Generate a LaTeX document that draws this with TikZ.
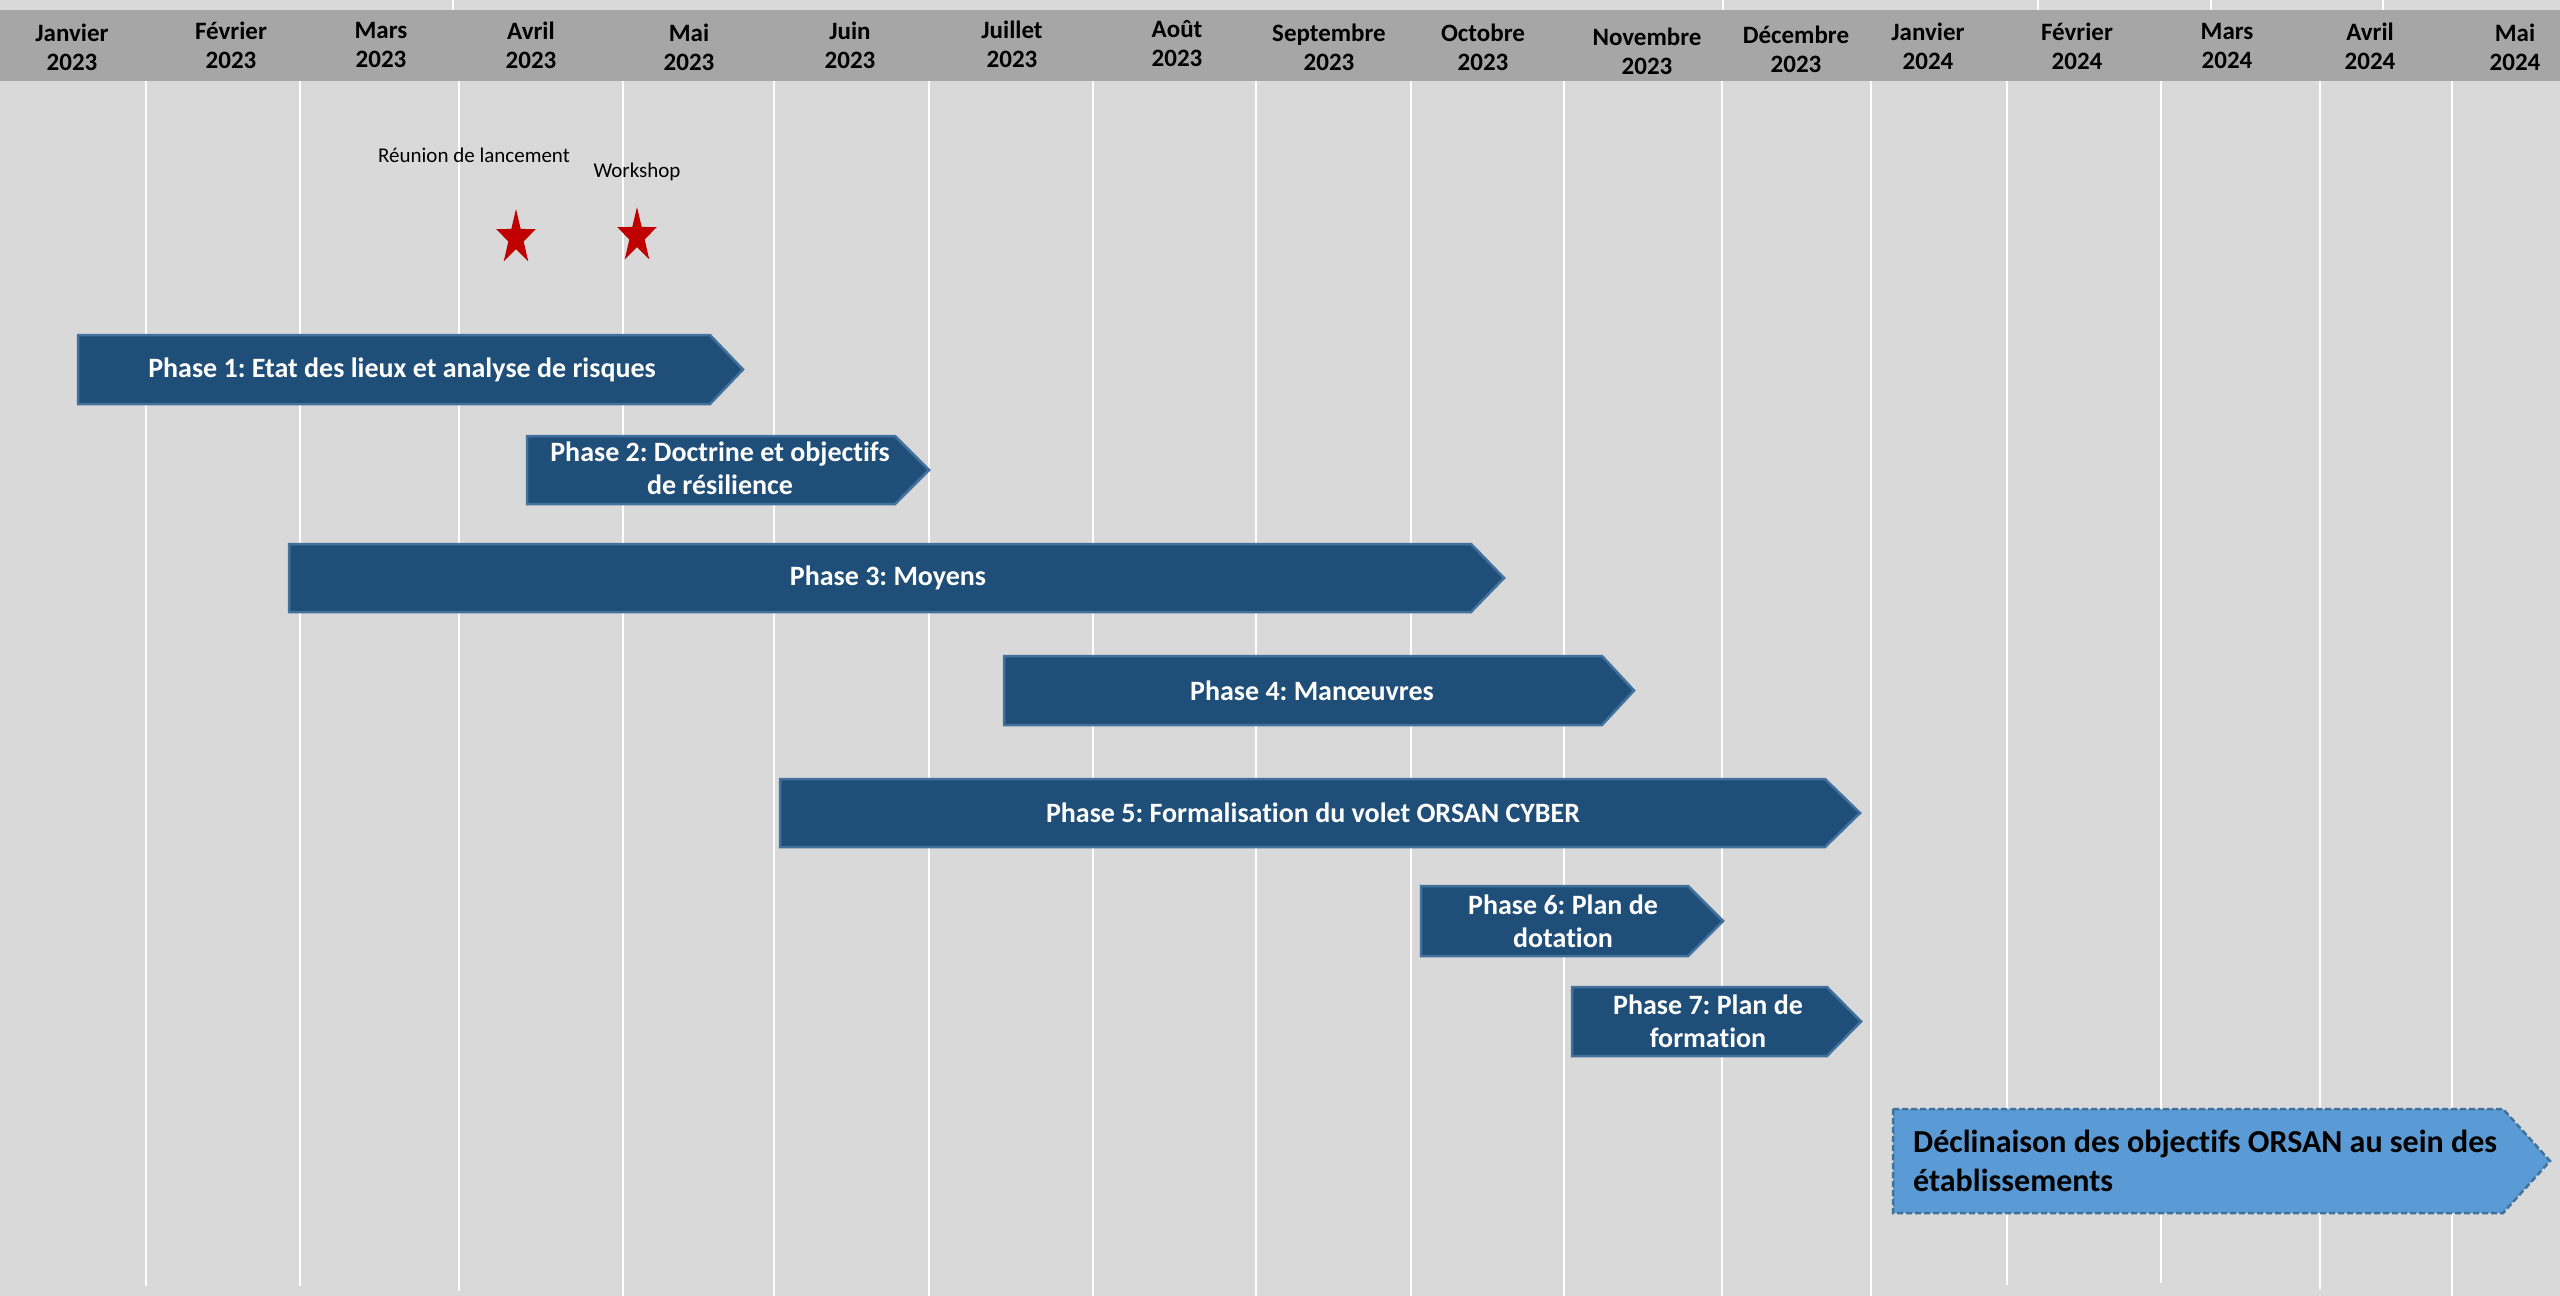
\documentclass[tikz,border=0pt]{standalone}
\usepackage{fontspec}
\setmainfont{Carlito}[Ligatures={NoCommon,NoContextual}]
\usetikzlibrary{shapes.geometric}
\frenchspacing

\definecolor{bggray}{HTML}{D9D9D9}
\definecolor{headgray}{HTML}{A6A6A6}
\definecolor{phaseblue}{HTML}{1F4E79}
\definecolor{phaseedge}{HTML}{41719C}
\definecolor{lightblue}{HTML}{5B9BD5}
\definecolor{starred}{HTML}{C00000}

\begin{document}
\begin{tikzpicture}[x=1pt, y=-1pt]
    % Define styles for the chart
    \tikzstyle{month} = [font=\bfseries\fontsize{25}{29}\selectfont, align=center, inner sep=0pt]
    \tikzstyle{gridline} = [white, line width=2pt]
    \tikzstyle{phase} = [fill=phaseblue, draw=phaseedge, line width=2.5pt]
    \tikzstyle{phaselabel} = [font=\bfseries\fontsize{28}{33}\selectfont, text=white, align=center, inner sep=0pt]
    \tikzstyle{rollout} = [fill=lightblue, draw=phaseedge, line width=2.5pt, dash pattern=on 6pt off 3pt]
    \tikzstyle{milestone} = [star, star points=5, star point ratio=2.6, minimum size=58pt, inner sep=0pt, fill=starred, xscale=0.72]
    \tikzstyle{milestonelabel} = [font=\fontsize{21}{25}\selectfont, inner sep=0pt]

    % Background and header band
    \useasboundingbox (0,0) rectangle (2560,1296);
    \fill[bggray] (0,0) rectangle (2560,1296);
    \fill[headgray] (0,10) rectangle (2560,81);
    \draw[gridline] (453,0) -- (453,10) (1723,0) -- (1723,10) (2038,0) -- (2038,10)
        (2211,0) -- (2211,10) (2383,0) -- (2383,10);

    % Month separators
    \draw[gridline] (146,81) -- (146,1286) (300,81) -- (300,1286) (459,81) -- (459,1291)
        (623,81) -- (623,1296) (774,81) -- (774,1296) (929,81) -- (929,1296)
        (1093,81) -- (1093,1296) (1256,81) -- (1256,1296) (1411,81) -- (1411,1296)
        (1564,81) -- (1564,1296) (1722,81) -- (1722,1296) (1871,81) -- (1871,1296)
        (2007,81) -- (2007,1285) (2161,81) -- (2161,1283) (2320,81) -- (2320,1289)
        (2452,81) -- (2452,1296);

    % Month headers
    \node (jan23) [month] at (72,47) {Janvier\\2023};
    \node (feb23) [month] at (231,45) {Février\\2023};
    \node (mar23) [month] at (381,45) {Mars\\2023};
    \node (apr23) [month] at (531,45) {Avril\\2023};
    \node (may23) [month] at (689,47) {Mai\\2023};
    \node (jun23) [month] at (850,45) {Juin\\2023};
    \node (jul23) [month] at (1012,44) {Juillet\\2023};
    \node (aug23) [month] at (1177,44) {Août\\2023};
    \node (sep23) [month] at (1329,47) {Septembre\\2023};
    \node (oct23) [month] at (1483,47) {Octobre\\2023};
    \node (nov23) [month] at (1647,51) {Novembre\\2023};
    \node (dec23) [month] at (1796,49) {Décembre\\2023};
    \node (jan24) [month] at (1928,46) {Janvier\\2024};
    \node (feb24) [month] at (2077,46) {Février\\2024};
    \node (mar24) [month] at (2227,46) {Mars\\2024};
    \node (apr24) [month] at (2370,46) {Avril\\2024};
    \node (may24) [month] at (2515,47) {Mai\\2024};

    % Milestones
    \node (kickofflabel) [milestonelabel] at (474,155) {Réunion de lancement};
    \node (workshoplabel) [milestonelabel] at (637,172) {Workshop};
    \node (kickoff) [milestone] at (516,238) {};
    \node (workshop) [milestone] at (637,236) {};

    % Phase bars
    \draw[phase] (78,335) -- (710,335) -- (743,369.5) -- (710,404) -- (78,404) -- cycle;
    \node (phase1) [phaselabel] at (402,369.5) {Phase 1: Etat des lieux et analyse de risques};

    \draw[phase] (527,436) -- (895,436) -- (929,470) -- (895,504) -- (527,504) -- cycle;
    \node (phase2) [phaselabel] at (720,468) {Phase 2: Doctrine et objectifs\\de résilience};

    \draw[phase] (289,544) -- (1471,544) -- (1504,578) -- (1471,612) -- (289,612) -- cycle;
    \node (phase3) [phaselabel] at (888,578) {Phase 3: Moyens};

    \draw[phase] (1004,656) -- (1602,656) -- (1634,690.5) -- (1602,725) -- (1004,725) -- cycle;
    \node (phase4) [phaselabel] at (1312,690.5) {Phase 4: Manœuvres};

    \draw[phase] (780,779) -- (1825,779) -- (1860,813) -- (1825,847) -- (780,847) -- cycle;
    \node (phase5) [phaselabel] at (1313,813) {Phase 5: Formalisation du volet ORSAN CYBER};

    \draw[phase] (1421,886) -- (1688,886) -- (1723,921) -- (1688,956) -- (1421,956) -- cycle;
    \node (phase6) [phaselabel] at (1563,921) {Phase 6: Plan de\\dotation};

    \draw[phase] (1572,987) -- (1827,987) -- (1861,1021.5) -- (1827,1056) -- (1572,1056) -- cycle;
    \node (phase7) [phaselabel] at (1708,1021.5) {Phase 7: Plan de\\formation};

    % Roll-out in the hospitals
    \draw[rollout] (1893,1109) -- (2503,1109) -- (2550,1161) -- (2503,1213) -- (1893,1213) -- cycle;
    \node (rollout) [anchor=west, font=\bfseries\fontsize{32}{39}\selectfont, align=left, inner sep=0pt]
        at (1913,1161) {Déclinaison des objectifs ORSAN au sein des\\établissements};

\end{tikzpicture}
\end{document}
